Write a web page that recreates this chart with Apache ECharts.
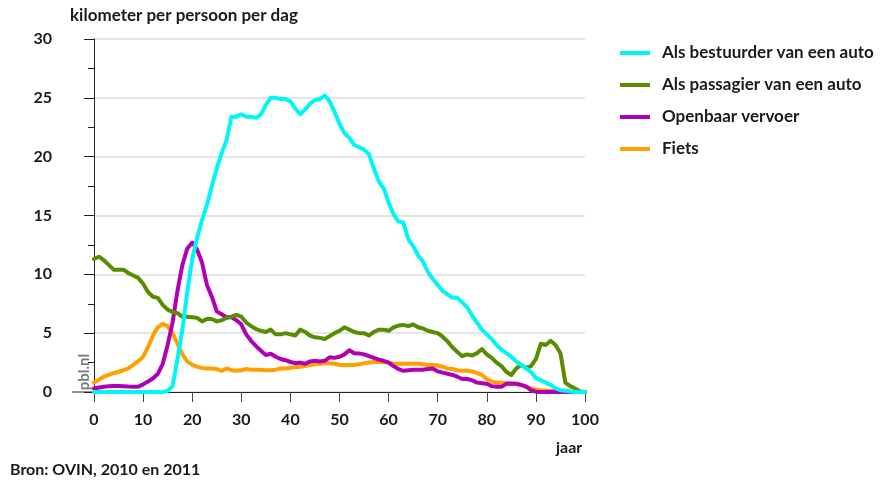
<!DOCTYPE html>
<html><head><meta charset="utf-8">
<script src="https://cdn.jsdelivr.net/npm/echarts@6/dist/echarts.min.js"></script>
<style>html,body{margin:0;padding:0;background:#fff}#c{width:887px;height:486px}</style>
</head><body><div id="c"></div>
<script>
const ages = [0,1,2,3,4,5,6,7,8,9,10,11,12,13,14,15,16,17,18,19,20,21,22,23,24,25,26,27,28,29,30,31,32,33,34,35,36,37,38,39,40,41,42,43,44,45,46,47,48,49,50,51,52,53,54,55,56,57,58,59,60,61,62,63,64,65,66,67,68,69,70,71,72,73,74,75,76,77,78,79,80,81,82,83,84,85,86,87,88,89,90,91,92,93,94,95,96,97,98,99,100];
const xTicks = [0,10,20,30,40,50,60,70,80,90,100];
const yTicks = [0,5,10,15,20,25,30];

const bestuurder = [0,0,0,0,0,0,0,0,0,0,0,0,0,0,0,0.1,0.5,2.8,5.3,8.5,
 11.3,13.1,14.6,15.9,17.5,19.0,20.3,21.4,23.4,23.4,23.6,23.4,23.4,23.3,23.6,24.4,25.0,25.0,24.9,24.9,
 24.7,24.1,23.6,24.0,24.5,24.8,24.9,25.2,24.7,23.8,22.8,22.0,21.6,21.0,20.8,20.6,20.2,19.0,17.9,17.3,
 16.1,15.1,14.5,14.4,13.0,12.4,11.6,11.1,10.2,9.6,9.1,8.6,8.3,8.0,8.0,7.6,7.2,6.5,5.9,5.3,
 4.9,4.5,4.0,3.6,3.3,3.0,2.6,2.3,2.0,1.7,1.2,1.0,0.8,0.6,0.3,0.15,0.1,0.05,0,0,0];
const passagier = [11.3,11.5,11.2,10.8,10.4,10.4,10.4,10.1,9.9,9.7,9.2,8.5,8.1,8.0,7.4,7.0,6.8,6.7,6.4,6.4,
 6.35,6.3,6.0,6.2,6.2,6.0,6.1,6.3,6.4,6.55,6.4,5.9,5.6,5.35,5.2,5.1,5.3,4.9,4.9,5.0,
 4.9,4.8,5.3,5.1,4.8,4.65,4.6,4.5,4.75,5.0,5.2,5.5,5.3,5.1,5.0,5.0,4.8,5.1,5.3,5.3,
 5.2,5.5,5.65,5.7,5.6,5.75,5.5,5.4,5.2,5.1,5.0,4.7,4.3,3.8,3.4,3.05,3.2,3.1,3.3,3.65,
 3.2,2.9,2.5,2.2,1.7,1.45,2.0,2.3,2.05,2.2,2.8,4.1,4.0,4.35,4.0,3.3,0.8,0.5,0.3,0.05,0];
const openbaar = [0.3,0.38,0.45,0.48,0.5,0.5,0.48,0.46,0.45,0.45,0.65,0.9,1.15,1.55,2.4,4.0,5.9,8.6,10.8,12.2,
 12.7,12.1,11.0,9.1,8.1,6.85,6.6,6.35,6.35,6.1,5.75,4.9,4.35,3.9,3.5,3.15,3.25,3.0,2.8,2.7,
 2.55,2.45,2.5,2.4,2.6,2.65,2.6,2.65,2.95,2.9,3.0,3.2,3.55,3.3,3.28,3.2,3.05,2.9,2.75,2.65,
 2.5,2.2,1.95,1.8,1.85,1.9,1.9,1.9,1.95,2.0,1.75,1.65,1.55,1.45,1.3,1.1,1.1,1.0,0.8,0.75,
 0.7,0.5,0.45,0.45,0.7,0.72,0.7,0.6,0.45,0.15,0.03,0,0,0,0,0,0,0,0,0,0];
const fiets = [0.8,1.05,1.3,1.45,1.6,1.72,1.85,2.0,2.3,2.6,3.0,3.8,4.8,5.5,5.8,5.6,5.0,4.1,3.2,2.6,
 2.3,2.15,2.05,2.0,2.0,1.95,1.8,2.0,1.85,1.8,1.85,1.95,1.9,1.9,1.9,1.85,1.85,1.9,2.0,2.0,
 2.05,2.1,2.15,2.2,2.3,2.35,2.4,2.45,2.45,2.4,2.3,2.3,2.3,2.3,2.35,2.45,2.5,2.55,2.55,2.55,
 2.5,2.4,2.4,2.4,2.4,2.4,2.4,2.35,2.3,2.3,2.25,2.15,2.0,1.95,1.85,1.8,1.8,1.75,1.6,1.45,
 1.1,0.9,0.8,0.78,0.75,0.72,0.7,0.6,0.45,0.3,0.2,0.15,0.12,0.1,0.08,0.05,0.03,0.02,0.01,0,0];

const names = ['Als bestuurder van een auto','Als passagier van een auto','Openbaar vervoer','Fiets'];
const colors = ['#00f6f6','#5a8c00','#b000b4','#ffa000'];
const FONT = 'Lato';
const TXT = '#1a1a1a';

function pairs(v){ return ages.map((a,i)=>[a, v[i]]); }
function line(i, v){
  return {name:names[i], type:'line', data:pairs(v), showSymbol:false, symbol:'none',
    lineStyle:{color:colors[i], width:4, join:'round', cap:'round'}, itemStyle:{color:colors[i]},
    emphasis:{disabled:true}};
}

const chart = echarts.init(document.getElementById('c'));
chart.setOption({
  animation:false,
  grid:{left:94, right:302, top:39, bottom:94},
  xAxis:{type:'value', min:xTicks[0], max:xTicks[xTicks.length-1], interval:10,
    axisLine:{lineStyle:{color:'#222', width:1}},
    axisTick:{show:true, length:10, lineStyle:{color:'#444'}},
    axisLabel:{margin:20, color:TXT, fontFamily:FONT, fontSize:16, fontWeight:'bold'},
    splitLine:{show:false}},
  yAxis:{type:'value', min:yTicks[0], max:yTicks[yTicks.length-1], interval:5, offset:22,
    axisLine:{show:true, lineStyle:{color:'#222', width:1}},
    axisTick:{show:true, length:10, lineStyle:{color:'#222'}},
    minorTick:{show:true, splitNumber:2, length:6, lineStyle:{color:'#222'}},
    axisLabel:{margin:20, color:TXT, fontFamily:FONT, fontSize:16, fontWeight:'bold'},
    splitLine:{show:true, lineStyle:{color:'#dcdcdc', width:1.5}}},
  legend:{orient:'vertical', left:615, top:38, itemWidth:30, itemHeight:4, itemGap:12, icon:'rect',
    data:names, selectedMode:false,
    textStyle:{color:TXT, fontFamily:FONT, fontSize:17, fontWeight:'bold', lineHeight:20, padding:[0,0,0,7]}},
  graphic:[
    {type:'line', shape:{x1:72, y1:392, x2:94, y2:392}, style:{stroke:'#222', lineWidth:1}},
    {type:'text', left:70, top:7, style:{text:'kilometer per persoon per dag', font:'bold 17px Lato', fill:TXT}},
    {type:'text', left:556, top:440, style:{text:'jaar', font:'bold 16px Lato', fill:TXT}},
    {type:'text', left:10, top:462, style:{text:'Bron: OVIN, 2010 en 2011', font:'bold 16px Lato', fill:TXT}},
    {type:'text', x:84, y:372, rotation:Math.PI/2, style:{text:'pbl.nl', font:'bold 15px Lato', fill:'#7a7a7a', textAlign:'center', textVerticalAlign:'middle'}}
  ],
  series:[line(3, fiets), line(2, openbaar), line(1, passagier), line(0, bestuurder)]
});
</script></body></html>
